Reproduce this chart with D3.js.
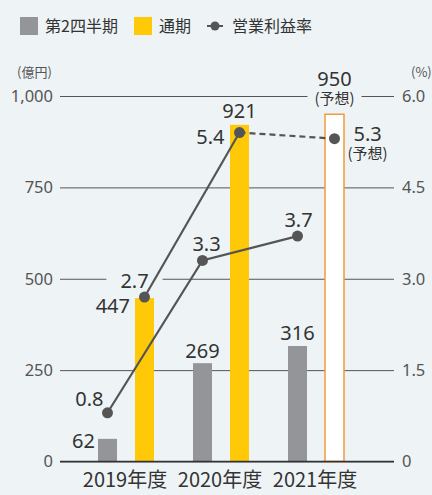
<!DOCTYPE html>
<html>
<head>
<meta charset="utf-8">
<script src="https://cdn.jsdelivr.net/npm/d3@7"></script>
<style>
  html, body { margin: 0; padding: 0; background: #eef3f6; }
  svg { display: block; font-family: "Noto Sans CJK JP", "Noto Sans", sans-serif; }
</style>
</head>
<body>
<svg id="chart"></svg>
<script>
// Data
const years = ["2019年度", "2020年度", "2021年度"];
const q2Profit = [62, 269, 316];          // 第2四半期 (億円)
const fullProfit = [447, 921, 950];       // 通期 (億円)
const fullForecast = [false, false, true];
const q2Margin = [0.8, 3.3, 3.7];         // 営業利益率 第2四半期 (%)
const fullMargin = [2.7, 5.4, 5.3];       // 営業利益率 通期 (%)
const leftTicks = [0, 250, 500, 750, 1000];
const rightTicks = [0, 1.5, 3.0, 4.5, 6.0];

const width = 432, height = 495;
const bg = "#eef3f6";
const margin = {left: 60, right: 38, top: 96, bottom: 34};

const svg = d3.select("#chart")
    .attr("width", width)
    .attr("height", height)
    .style("background", bg);

// Scales
const x0 = d3.scaleBand()
    .domain(years)
    .range([78.5, 363.5])
    .padding(0);

const x1 = d3.scaleBand()
    .domain(["q2", "full"])
    .range([19.5, 75.5])
    .paddingInner(18 / 37)
    .paddingOuter(0);

const y = d3.scaleLinear()
    .domain([0, 1000])
    .range([461.5, 96]);

const yR = d3.scaleLinear()
    .domain([0, 6])
    .range([461.5, 96]);

// Left axis with gridlines
const leftAxis = svg.append("g")
    .attr("transform", `translate(${margin.left},0)`)
    .call(d3.axisLeft(y).tickValues(leftTicks).tickFormat(d3.format(","))
        .tickSize(-(width - margin.left - margin.right)).tickPadding(7));
leftAxis.select(".domain").remove();
leftAxis.selectAll(".tick line")
    .attr("stroke", "#555")
    .attr("stroke-width", 1);
leftAxis.selectAll(".tick text")
    .attr("fill", "#555")
    .style("font-size", "16.5px")
    .style("font-family", "'Noto Sans', sans-serif");

// Right axis labels
const rightAxis = svg.append("g")
    .attr("transform", `translate(${width - margin.right},0)`)
    .call(d3.axisRight(yR).tickValues(rightTicks)
        .tickFormat(d => d === 0 ? "0" : d3.format(".1f")(d))
        .tickSize(0).tickPadding(8));
rightAxis.select(".domain").remove();
rightAxis.selectAll(".tick text")
    .attr("fill", "#555")
    .style("font-size", "16.5px")
    .style("font-family", "'Noto Sans', sans-serif");

// Unit labels
svg.append("text").attr("x", 17).attr("y", 77)
    .attr("fill", "#555").style("font-size", "13px").text("(億円)");
svg.append("text").attr("x", 411).attr("y", 77)
    .attr("fill", "#555").style("font-size", "13px").text("(%)");

// layer for label background patches (over gridlines, under bars and lines)
const patchLayer = svg.append("g");
const barG = svg.append("g");
const lineLayer = svg.append("g");
const textLayer = svg.append("g");

// Helper for labels, with an optional background patch
function label(x, yy, txt, opts) {
    const o = Object.assign({anchor: "middle", size: 20, pad: 0, padX: null}, opts);
    const t = textLayer.append("text")
        .attr("x", x).attr("y", yy)
        .attr("text-anchor", o.anchor)
        .attr("fill", "#333")
        .style("font-size", o.size + "px")
        .style("font-family", "'Noto Sans', 'Noto Sans CJK JP', sans-serif")
        .text(txt);
    if (o.pad > 0) {
        const b = t.node().getBBox();
        const px = o.padX != null ? o.padX : o.pad;
        patchLayer.append("rect")
            .attr("x", b.x - px).attr("y", b.y)
            .attr("width", b.width + 2 * px).attr("height", b.height)
            .attr("fill", bg);
    }
    return t;
}

// Two-line label: value plus a small "(予想)" line in one text element
function forecastLabel(x, yy, txt, subDx, subDy, anchor) {
    const t = textLayer.append("text")
        .attr("x", x).attr("y", yy)
        .attr("text-anchor", anchor)
        .attr("fill", "#333")
        .style("font-family", "'Noto Sans', 'Noto Sans CJK JP', sans-serif");
    t.append("tspan").style("font-size", "20px").text(txt);
    t.append("tspan")
        .attr("x", x + subDx).attr("dy", subDy)
        .attr("text-anchor", "middle")
        .style("font-size", "15px")
        .style("font-family", "'Noto Sans CJK JP', sans-serif")
        .text("(予想)");
    return t;
}

// Bars
years.forEach((yr, i) => {
    barG.append("rect")
        .attr("x", x0(yr) + x1("q2"))
        .attr("y", y(q2Profit[i]))
        .attr("width", x1.bandwidth())
        .attr("height", y(0) - y(q2Profit[i]))
        .attr("fill", "#939598");
    if (fullForecast[i]) {
        barG.append("rect")
            .attr("x", x0(yr) + x1("full"))
            .attr("y", y(fullProfit[i]))
            .attr("width", x1.bandwidth())
            .attr("height", y(0) - y(fullProfit[i]))
            .attr("fill", "#ffffff")
            .attr("stroke", "#f29a3c")
            .attr("stroke-width", 1.5);
    } else {
        barG.append("rect")
            .attr("x", x0(yr) + x1("full"))
            .attr("y", y(fullProfit[i]))
            .attr("width", x1.bandwidth())
            .attr("height", y(0) - y(fullProfit[i]))
            .attr("fill", "#ffc907");
    }
});

// Zero baseline
barG.append("line")
    .attr("x1", margin.left).attr("x2", width - margin.right)
    .attr("y1", y(0)).attr("y2", y(0))
    .attr("stroke", "#333").attr("stroke-width", 1.5);

// X labels
years.forEach(yr => {
    svg.append("text")
        .attr("x", x0(yr) + x0.bandwidth() / 2 - 1)
        .attr("y", 487)
        .attr("text-anchor", "middle")
        .attr("fill", "#333")
        .style("font-size", "20px")
        .text(yr);
});

// Bar value labels
const cx = (i, k) => x0(years[i]) + x1(k) + x1.bandwidth() / 2;
label(x0(years[0]) + x1("q2") - 3, y(q2Profit[0]) + 9, "62", {anchor: "end"});
label(cx(1, "q2"), y(q2Profit[1]) - 5, "269");
label(cx(2, "q2"), y(q2Profit[2]) - 6, "316");
label(x0(years[0]) + x1("full") - 5, y(fullProfit[0]) + 15, "447", {anchor: "end"});
label(cx(1, "full"), y(fullProfit[1]) - 7, "921");

// patch behind "(予想)" that interrupts the 1,000 gridline
patchLayer.append("rect")
    .attr("x", cx(2, "full") - 27).attr("y", y(fullProfit[2]) - 22)
    .attr("width", 54).attr("height", 16)
    .attr("fill", bg);
forecastLabel(cx(2, "full"), y(fullProfit[2]) - 28, "950", 0, 18, "middle");

// Margin lines
const lineGen = d3.line()
    .x(d => d.x)
    .y(d => yR(d.v));

const q2Pts = q2Margin.map((v, i) => ({x: cx(i, "q2"), v}));
const fullPts = fullMargin.map((v, i) => ({x: cx(i, "full"), v}));

lineLayer.append("path")
    .datum(q2Pts)
    .attr("fill", "none").attr("stroke", "#555").attr("stroke-width", 2.2)
    .attr("d", lineGen);

lineLayer.append("path")
    .datum(fullPts.slice(0, 2))
    .attr("fill", "none").attr("stroke", "#555").attr("stroke-width", 2.2)
    .attr("d", lineGen);

lineLayer.append("path")
    .datum(fullPts.slice(1, 3))
    .attr("fill", "none").attr("stroke", "#555").attr("stroke-width", 2.2)
    .attr("stroke-dasharray", "6,4")
    .attr("d", lineGen);

lineLayer.selectAll(".dot")
    .data(q2Pts.concat(fullPts))
    .enter()
    .append("circle")
    .attr("cx", d => d.x)
    .attr("cy", d => yR(d.v))
    .attr("r", 5.5)
    .attr("fill", "#555");

// Margin labels
const f1 = d3.format(".1f");
label(q2Pts[0].x - 4, yR(q2Margin[0]) - 7, f1(q2Margin[0]), {anchor: "end"});
label(q2Pts[1].x + 4, yR(q2Margin[1]) - 9, f1(q2Margin[1]));
label(q2Pts[2].x + 1, yR(q2Margin[2]) - 9, f1(q2Margin[2]));
label(fullPts[0].x - 10, yR(fullMargin[0]) - 9, f1(fullMargin[0]), {pad: 1, padX: 14});
label(fullPts[1].x - 15, yR(fullMargin[1]) + 11, f1(fullMargin[1]), {anchor: "end"});
forecastLabel(fullPts[2].x + 19, yR(fullMargin[2]) + 2, f1(fullMargin[2]), 14, 18, "start");

// Legend
const legend = svg.append("g").attr("transform", "translate(20,17)");
legend.append("rect").attr("x", 0).attr("y", 0).attr("width", 18).attr("height", 18).attr("fill", "#939598");
legend.append("text").attr("x", 25).attr("y", 15).attr("fill", "#333").style("font-size", "16px").text("第2四半期");
legend.append("rect").attr("x", 114).attr("y", 0).attr("width", 18).attr("height", 18).attr("fill", "#ffc907");
legend.append("text").attr("x", 139).attr("y", 15).attr("fill", "#333").style("font-size", "16px").text("通期");
legend.append("line").attr("x1", 187).attr("x2", 203).attr("y1", 9).attr("y2", 9)
    .attr("stroke", "#555").attr("stroke-width", 2);
legend.append("circle").attr("cx", 195).attr("cy", 9).attr("r", 4.5).attr("fill", "#555");
legend.append("text").attr("x", 212).attr("y", 15).attr("fill", "#333").style("font-size", "16px").text("営業利益率");
</script>
</body>
</html>
